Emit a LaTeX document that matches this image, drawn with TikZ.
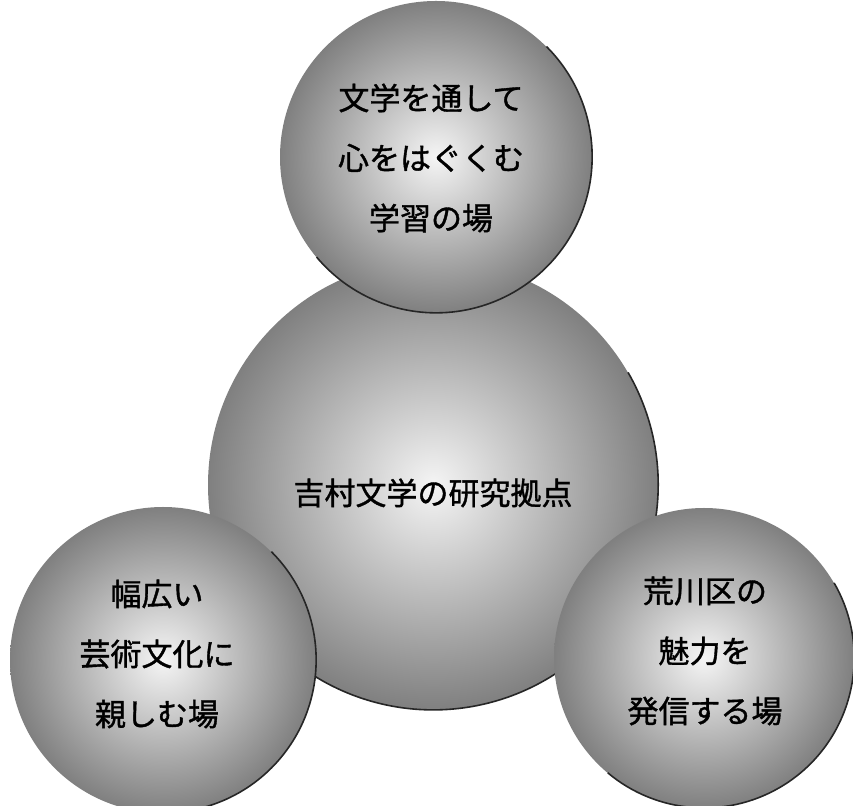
\documentclass[tikz,border=0pt]{standalone}
\usepackage{fontspec}
\newfontfamily\cjk[FakeBold=1.2]{Noto Sans CJK JP}
\begin{document}
\begin{tikzpicture}[x=1pt,y=1pt,
  ball/.style={circle, inner sep=0pt, minimum size=#1, shading=radial,
    inner color=black!4, outer color=black!50},
  rim/.style={draw=black!85, line width=1.6pt},
  lbl/.style={font=\cjk\fontsize{31}{60}\selectfont, align=center, inner sep=0pt}]
\useasboundingbox (0,0) rectangle (853,805);
\fill[white] (0,0) rectangle (853,805);
% centre
\node[ball=450pt] (mid) at (433,320) {};
\draw[rim] (mid.30) arc[start angle=30, end angle=-165, radius=225pt];
% top
\node[ball=312pt] (top) at (436,648) {};
\draw[rim] (top.45) arc[start angle=45, end angle=-140, radius=156pt];
% left
\node[ball=306pt] (left) at (163,145) {};
\draw[rim] (left.45) arc[start angle=45, end angle=-100, radius=153pt];
% right
\node[ball=300pt] (right) at (704,147) {};
\draw[rim] (right.30) arc[start angle=30, end angle=-130, radius=150pt];
% labels
\node[lbl] (tmid) at (433,312) {吉村文学の研究拠点};
\node[lbl] (ttop) at (431,647) {文学を通して\\心をはぐくむ\\学習の場};
\node[lbl] (tleft) at (157,151) {幅広い\\芸術文化に\\親しむ場};
\node[lbl] (tright) at (705,154) {荒川区の\\魅力を\\発信する場};
\end{tikzpicture}
\end{document}
